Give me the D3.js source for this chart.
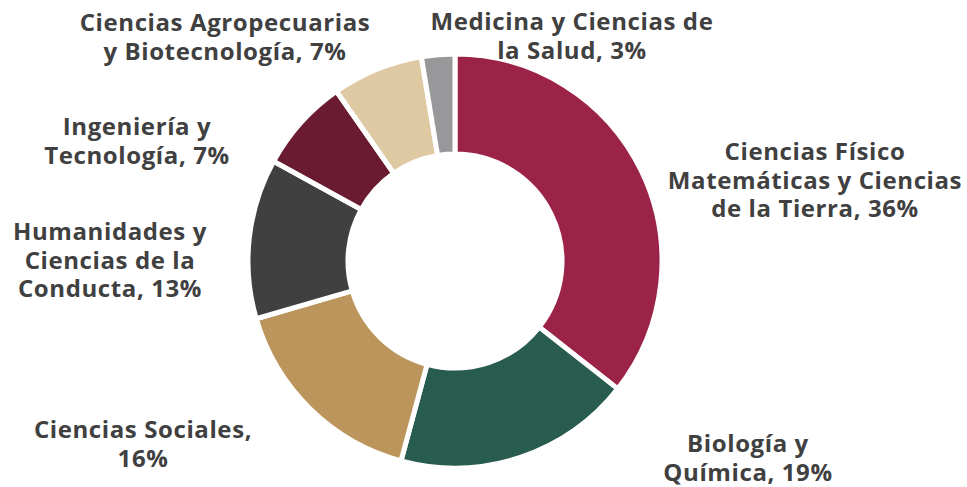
<!DOCTYPE html>
<html>
<head>
<meta charset="utf-8">
<script src="https://cdn.jsdelivr.net/npm/d3@7"></script>
<style>
  body { margin: 0; background: #fff; }
  .lbl { font-family: "Open Sans", sans-serif; font-weight: 700; fill: #404041; letter-spacing: 0.6px; }
</style>
</head>
<body>
<svg id="chart" width="967" height="487"></svg>
<script>
const areas = [
    ['Ciencias Físico', 'Matemáticas y Ciencias', 'de la Tierra,'],
    ['Biología y', 'Química,'],
    ['Ciencias Sociales,', ''],
    ['Humanidades y', 'Ciencias de la', 'Conducta,'],
    ['Ingeniería y', 'Tecnología,'],
    ['Ciencias Agropecuarias', 'y Biotecnología,'],
    ['Medicina y Ciencias de', 'la Salud,']
];
const shares = [35.6, 18.6, 16.3, 12.5, 7.3, 7.1, 2.6];
const colors = ['#9c2348', '#285c4f', '#bc955c', '#404041', '#6a1b31', '#dec9a3', '#98989a'];

// where each label block is centred (x, y of first line)
const labelAt = [
    [815, 152], [748, 444], [143, 430], [110, 232], [137, 127], [225, 23], [572, 22]
];

const svg = d3.select('#chart');
const cx = 455, cy = 261;

const pie = d3.pie().sort(null).value(d => d);
const arc = d3.arc().innerRadius(107).outerRadius(207);

svg.append('g')
    .attr('transform', 'translate(' + cx + ',' + cy + ')')
    .selectAll('path')
    .data(pie(shares))
    .join('path')
    .attr('d', arc)
    .attr('fill', (d, i) => colors[i])
    .attr('stroke', '#fff')
    .attr('stroke-width', 5);

const lineH = 28.5;

areas.forEach((lines, i) => {
    const pct = Math.round(shares[i]) + '%';
    const txt = lines.map((l, j) => {
        if (j === lines.length - 1) return l === '' ? pct : l + ' ' + pct;
        return l;
    });
    const t = svg.append('text')
        .classed('lbl', true)
        .attr('text-anchor', 'middle')
        .attr('font-size', 24);
    txt.forEach((s, j) => {
        t.append('tspan')
            .attr('x', labelAt[i][0])
            .attr('y', labelAt[i][1] + j * lineH)
            .attr('dy', '0.35em')
            .text(s);
    });
});
</script>
</body>
</html>
